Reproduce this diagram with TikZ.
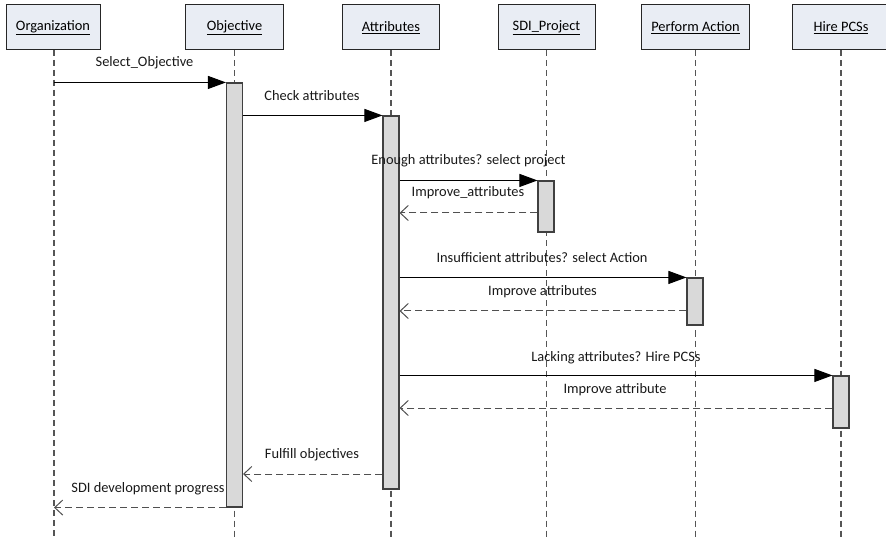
\documentclass[tikz,border=0pt]{standalone}
\usepackage{fontspec}
\setmainfont{Carlito}
\usetikzlibrary{arrows.meta}
\definecolor{headfill}{HTML}{E9EDF4}
\definecolor{barfill}{HTML}{D9D9D9}
\definecolor{lifegray}{HTML}{555555}
\definecolor{retgray}{HTML}{505050}
\tikzset{
  every node/.style={font=\fontsize{14.4}{17}\selectfont, inner sep=0pt},
  header/.style={draw=black!85, line width=1pt, fill=headfill,
    minimum height=45pt},
  lifeline/.style={draw=lifegray, line width=1.3pt, dash pattern=on 6pt off 4pt},
  actbar/.style={draw=black!75, line width=1.1pt, fill=barfill,
    minimum width=16pt},
  call/.style={draw=black, line width=1pt,
    -{Triangle[length=18pt,width=13pt]}},
  reply/.style={draw=retgray, line width=1pt, dash pattern=on 7pt off 4pt,
    -{Straight Barb[length=8pt,width=15pt,line width=1pt]}},
  msglabel/.style={anchor=base, text=black!90}
}
\begin{document}
\begin{tikzpicture}[x=1pt, y=-1pt]
\useasboundingbox (0,0) rectangle (886,537);
\clip (0,0) rectangle (886,537);
\fill[white] (0,0) rectangle (886,537);

% participants
\node[header, minimum width=94pt] (org) at (53,27.5) {\underline{Organization}};
\node[header, minimum width=98pt] (obj) at (234.5,27.5) {\underline{Objective}};
\node[header, minimum width=97pt] (attr) at (391,27.5) {\underline{Attributes}};
\node[header, minimum width=97pt] (sdi) at (546.5,27.5) {\underline{SDI\_Project}};
\node[header, minimum width=108pt] (perf) at (695.5,27.5) {\underline{Perform Action}};
\node[header, minimum width=98pt] (hire) at (841,27.5) {\underline{Hire PCSs}};

% lifeline ends
\coordinate (orgend) at (54,540);
\coordinate (objend) at (234.5,540);
\coordinate (attrend) at (391,540);
\coordinate (sdiend) at (546.5,540);
\coordinate (perfend) at (695.5,540);
\coordinate (hireend) at (841,540);

\draw[lifeline] (54,50) -- (orgend);
\draw[lifeline] (obj.south) -- (objend);
\draw[lifeline] (attr.south) -- (attrend);
\draw[lifeline] (sdi.south) -- (sdiend);
\draw[lifeline] (perf.south) -- (perfend);
\draw[lifeline] (hire.south) -- (hireend);

% activation bars
\node[actbar, minimum height=424pt] (objbar) at (234.5,295) {};
\node[actbar, minimum height=373pt] (attrbar) at (391,302.5) {};
\node[actbar, minimum height=51pt] (sdibar) at (546,206.5) {};
\node[actbar, minimum height=47pt] (perfbar) at (695,301.5) {};
\node[actbar, minimum height=52pt] (hirebar) at (841,402) {};

% heights of the reply messages
\coordinate (r1) at (0,213);
\coordinate (r2) at (0,311);
\coordinate (r3) at (0,408);
\coordinate (r4) at (0,474);

% calls
\draw[call] (orgend |- objbar.north) -- (objbar.north west);
\draw[call] (objbar.east |- attrbar.north) -- (attrbar.north west);
\draw[call] (attrbar.east |- sdibar.north) -- (sdibar.north west);
\draw[call] (attrbar.east |- perfbar.north) -- (perfbar.north west);
\draw[call] (attrbar.east |- hirebar.north) -- (hirebar.north west);

% replies
\draw[reply] (sdibar.west |- r1) -- (attrbar.east |- r1);
\draw[reply] (perfbar.west |- r2) -- (attrbar.east |- r2);
\draw[reply] (hirebar.west |- r3) -- (attrbar.east |- r3);
\draw[reply] (attrbar.west |- r4) -- (objbar.east |- r4);
\draw[reply] (objbar.south west) -- (orgend |- objbar.south);

% message labels
\node[msglabel] (l1) at (144.5,67) {Select\_Objective};
\node[msglabel] (l2) at (312,101) {Check attributes};
\node[msglabel] (l3) at (468.5,165) {Enough attributes? select project};
\node[msglabel] (l4) at (468,197) {Improve\_attributes};
\node[msglabel] (l5) at (542,263) {Insufficient attributes? select Action};
\node[msglabel] (l6) at (542.5,295) {Improve attributes};
\node[msglabel] (l7) at (616,361) {Lacking attributes? Hire PCSs};
\node[msglabel] (l8) at (615,393) {Improve attribute};
\node[msglabel] (l9) at (312,458) {Fulfill objectives};
\node[msglabel] (l10) at (148,492) {SDI development progress};
\end{tikzpicture}
\end{document}
